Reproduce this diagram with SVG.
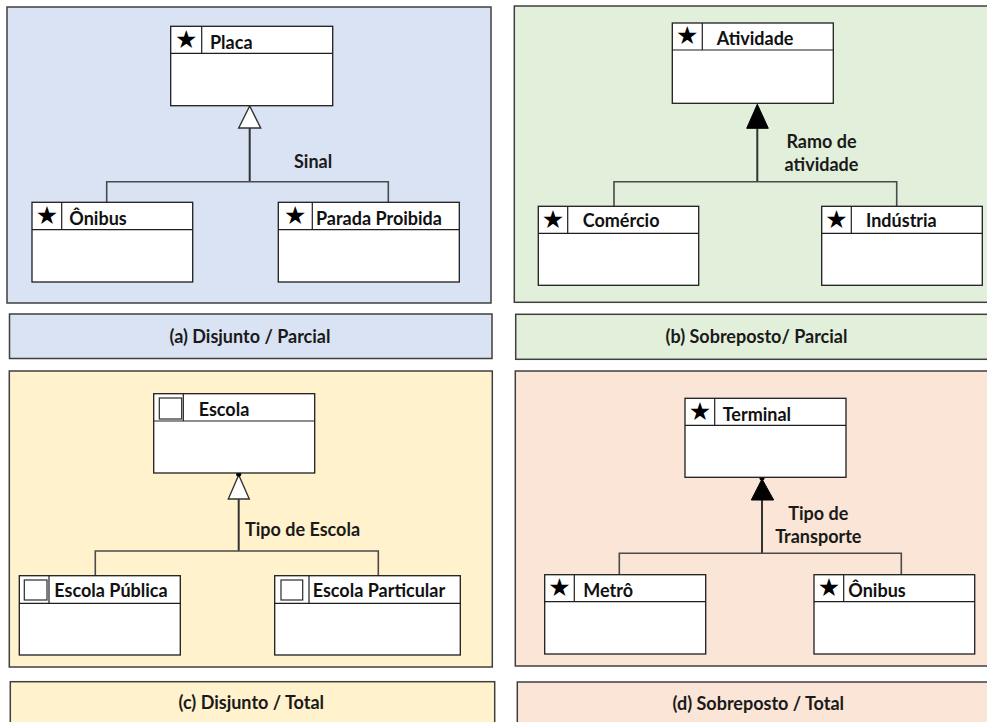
<svg xmlns="http://www.w3.org/2000/svg" width="987" height="722" viewBox="0 0 987 722">
  <style>
    .panel { stroke: #3f3f3f; stroke-width: 1.5; }
    .blue { fill: #dae3f3; }
    .green { fill: #e2efda; }
    .yellow { fill: #fff2cc; }
    .peach { fill: #fbe5d6; }
    .box { fill: #ffffff; stroke: #1e1e1e; stroke-width: 1.3; }
    .sep { stroke: #1e1e1e; stroke-width: 1.2; fill: none; }
    .chk { fill: #ffffff; stroke: #2a2a2a; stroke-width: 1.2; }
    .name { font-family: Lato, "Liberation Sans", sans-serif; font-weight: 700; font-size: 18px; fill: #111111; }
    .star { font-family: "DejaVu Sans", sans-serif; font-size: 25px; fill: #000000; text-anchor: middle; }
    .lbl { font-family: Lato, "Liberation Sans", sans-serif; font-weight: 700; font-size: 18px; fill: #1a1a1a; }
    .cap { font-family: Lato, "Liberation Sans", sans-serif; font-weight: 700; font-size: 18px; fill: #1a1a1a; text-anchor: middle; }
    .trunk { stroke: #333333; stroke-width: 2; fill: none; }
    .branch { stroke: #4a4a4a; stroke-width: 1.6; fill: none; }
    .open { fill: #ffffff; stroke: #333333; stroke-width: 1.4; }
    .solid { fill: #000000; stroke: #000000; stroke-width: 1; }
  </style>

  <!-- background panels and captions -->
  <g id="panels">
    <rect class="panel blue" x="7" y="7" width="484" height="296"/>
    <rect class="panel blue" x="9.5" y="314" width="482.5" height="44.5"/>
    <rect class="panel green" x="514.3" y="6" width="480" height="296.3"/>
    <rect class="panel green" x="515.7" y="314.3" width="480" height="45"/>
    <rect class="panel yellow" x="9.3" y="371" width="483" height="296"/>
    <rect class="panel yellow" x="10.3" y="681.7" width="484.4" height="50"/>
    <rect class="panel peach" x="515.3" y="371" width="480" height="295"/>
    <rect class="panel peach" x="517.3" y="682" width="480" height="50"/>
  </g>

  <g id="captions">
    <text class="cap" x="250" y="342.5">(a) Disjunto / Parcial</text>
    <text class="cap" x="756.5" y="342.5">(b) Sobreposto/ Parcial</text>
    <text class="cap" x="251.3" y="709.3">(c) Disjunto / Total</text>
    <text class="cap" x="758.3" y="709.8">(d) Sobreposto / Total</text>
  </g>

  <!-- generalisation connectors -->
  <g id="connectors">
    <!-- (a) -->
    <path class="trunk" d="M249.7 128 V181.7"/>
    <path class="branch" d="M106.7 202.3 V181.7 H388.3 V202.3"/>
    <polygon class="open" points="249.7,106 238.7,128 260.7,128"/>
    <!-- (b) -->
    <path class="trunk" d="M757.3 128.3 V181.7"/>
    <path class="branch" d="M614 206.3 V181.7 H896.7 V206.3"/>
    <polygon class="solid" points="757.3,104.3 746.7,128.3 768.3,128.3"/>
    <!-- (c) -->
    <path class="trunk" d="M238.7 499 V551"/>
    <path class="branch" d="M95.3 575.7 V551 H378.3 V575.7"/>
    <polygon class="open" points="238.7,475 228.3,499 249.3,499"/>
    <circle cx="238.7" cy="474" r="2.6" fill="#000000"/>
    <!-- (d) -->
    <path class="trunk" d="M762 500 V553.3"/>
    <path class="branch" d="M619.3 574.7 V553.3 H901.3 V574.7"/>
    <polygon class="solid" points="762,479 751.3,500 773.7,500"/>
    <circle cx="762" cy="477.8" r="2.6" fill="#000000"/>
  </g>

  <g id="connector-labels">
    <text class="lbl" x="294" y="168">Sinal</text>
    <text class="lbl" x="821.5" y="147.7" text-anchor="middle">Ramo de</text>
    <text class="lbl" x="821.5" y="171" text-anchor="middle">atividade</text>
    <text class="lbl" x="245" y="535.7">Tipo de Escola</text>
    <text class="lbl" x="818.3" y="520" text-anchor="middle">Tipo de</text>
    <text class="lbl" x="818.3" y="543.3" text-anchor="middle">Transporte</text>
  </g>

  <!-- (a) Disjunto / Parcial -->
  <g id="node-placa" transform="translate(170.7,26.3)">
    <rect class="box" width="162" height="79.4"/>
    <path class="sep" d="M0 27 H162 M31 0 V27"/>
    <text class="star" x="15.5" y="21.5">★</text>
    <text class="name" x="39.3" y="22.7">Placa</text>
  </g>
  <g id="node-onibus-a" transform="translate(32,202.3)">
    <rect class="box" width="160.7" height="79.7"/>
    <path class="sep" d="M0 27.4 H160.7 M29.7 0 V27.4"/>
    <text class="star" x="14.85" y="21.5">★</text>
    <text class="name" x="37.3" y="22.7">Ônibus</text>
  </g>
  <g id="node-parada" transform="translate(278.3,202.3)">
    <rect class="box" width="181" height="79.7"/>
    <path class="sep" d="M0 27.4 H181 M34 0 V27.4"/>
    <text class="star" x="17" y="21.5">★</text>
    <text class="name" x="37.7" y="22.7">Parada Proibida</text>
  </g>

  <!-- (b) Sobreposto / Parcial -->
  <g id="node-atividade" transform="translate(672.3,23)">
    <rect class="box" width="161" height="80.3"/>
    <path class="sep" d="M0 27 H161 M30 0 V27"/>
    <text class="star" x="15" y="21.3">★</text>
    <text class="name" x="44.4" y="22">Atividade</text>
  </g>
  <g id="node-comercio" transform="translate(538.3,206.3)">
    <rect class="box" width="160.4" height="79"/>
    <path class="sep" d="M0 27 H160.4 M29.4 0 V27"/>
    <text class="star" x="14.7" y="21.3">★</text>
    <text class="name" x="44.4" y="20.4">Comércio</text>
  </g>
  <g id="node-industria" transform="translate(821.7,206.3)">
    <rect class="box" width="160.6" height="79"/>
    <path class="sep" d="M0 27 H160.6 M29.6 0 V27"/>
    <text class="star" x="14.8" y="21.3">★</text>
    <text class="name" x="44.3" y="20.4">Indústria</text>
  </g>

  <!-- (c) Disjunto / Total -->
  <g id="node-escola" transform="translate(153.7,393.7)">
    <rect class="box" width="161" height="79.3"/>
    <path class="sep" d="M0 27.3 H161 M29.6 0 V27.3"/>
    <rect class="chk" x="5.6" y="4.3" width="22.4" height="21"/>
    <text class="name" x="45" y="22">Escola</text>
  </g>
  <g id="node-escola-publica" transform="translate(19.3,575.7)">
    <rect class="box" width="161" height="79.3"/>
    <path class="sep" d="M0 27.6 H161 M29.7 0 V27.6"/>
    <rect class="chk" x="5" y="4.3" width="22.7" height="20"/>
    <text class="name" x="35" y="21.6">Escola Pública</text>
  </g>
  <g id="node-escola-particular" transform="translate(274.7,575.7)">
    <rect class="box" width="185.6" height="79.3"/>
    <path class="sep" d="M0 27.6 H185.6 M34.3 0 V27.6"/>
    <rect class="chk" x="6.3" y="4.3" width="21.7" height="20"/>
    <text class="name" x="38" y="21.3">Escola Particular</text>
  </g>

  <!-- (d) Sobreposto / Total -->
  <g id="node-terminal" transform="translate(685,398.3)">
    <rect class="box" width="161" height="79"/>
    <path class="sep" d="M0 27 H161 M29.7 0 V27"/>
    <text class="star" x="14.85" y="21.3">★</text>
    <text class="name" x="37.7" y="22.4">Terminal</text>
  </g>
  <g id="node-metro" transform="translate(544.7,574.7)">
    <rect class="box" width="161" height="79.3"/>
    <path class="sep" d="M0 27 H161 M29.6 0 V27"/>
    <text class="star" x="14.8" y="21.3">★</text>
    <text class="name" x="38.6" y="22">Metrô</text>
  </g>
  <g id="node-onibus-d" transform="translate(814,574.7)">
    <rect class="box" width="160.7" height="79.3"/>
    <path class="sep" d="M0 27 H160.7 M29.7 0 V27"/>
    <text class="star" x="14.85" y="21.3">★</text>
    <text class="name" x="34.3" y="22">Ônibus</text>
  </g>
</svg>
